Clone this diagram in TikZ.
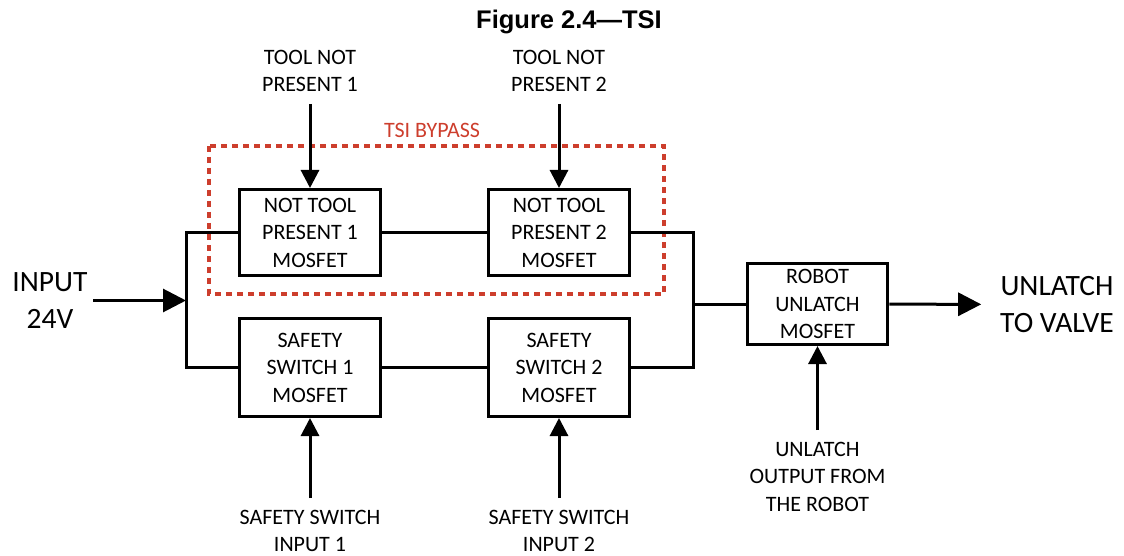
\documentclass[tikz,border=0pt]{standalone}
\usepackage{fontspec}
\setmainfont{Carlito}
\newfontfamily\titlefont{Liberation Sans}
\usetikzlibrary{positioning,arrows.meta}
\definecolor{bypassred}{RGB}{205,62,45}

\begin{document}
\begin{tikzpicture}[
        x=1pt, y=-1pt,
        node distance={105pt},
        fet/.style = {draw, line width=3pt, minimum width=141pt, align=center, inner sep=0pt, font=\fontsize{22}{27.5}\selectfont},
        lbl/.style = {align=center, inner sep=0pt, outer sep=12pt, font=\fontsize{22}{27.5}\selectfont},
        big/.style = {align=center, inner sep=0pt, font=\fontsize{29.5}{37}\selectfont},
        wire/.style = {line width=3pt},
        arr/.style = {line width=3pt, -{Triangle[length=18pt, width=18pt]}},
        bigarr/.style = {line width=3pt, -{Triangle[length=23pt, width=23pt]}},
        bypass/.style = {draw=bypassred, line width=3.3pt, dash pattern=on 6pt off 5pt}
    ]
        \useasboundingbox (0,0) rectangle (1124,556);

        % Titre
        \node[font=\titlefont\bfseries\fontsize{25.5}{30}\selectfont] (title) at (569,21.5) {Figure 2.4—TSI};

        % Les MOSFET (positionnement relatif)
        \node[fet, minimum height=86pt] (NTP1) at (310,232.5) {NOT TOOL\\PRESENT 1\\MOSFET};
        \node[fet, minimum height=86pt] (NTP2) [right=of NTP1] {NOT TOOL\\PRESENT 2\\MOSFET};
        \node[fet, minimum height=98pt] (SS1) [below=40pt of NTP1] {SAFETY\\SWITCH 1\\MOSFET};
        \node[fet, minimum height=98pt] (SS2) [right=of SS1] {SAFETY\\SWITCH 2\\MOSFET};
        \node[fet, minimum height=81pt, minimum width=140.5pt] (RUM) at (817.5,304) {ROBOT\\UNLATCH\\MOSFET};

        % Entrées et sorties
        \node[lbl] (TNP1) [above=84pt of NTP1] {TOOL NOT\\PRESENT 1};
        \node[lbl] (TNP2) [above=84pt of NTP2] {TOOL NOT\\PRESENT 2};
        \node[lbl] (SSI1) [below=80pt of SS1] {SAFETY SWITCH\\INPUT 1};
        \node[lbl] (SSI2) [below=80pt of SS2] {SAFETY SWITCH\\INPUT 2};
        \node[lbl] (UOR) [below=84pt of RUM] {UNLATCH\\OUTPUT FROM\\THE ROBOT};
        \node[big, outer sep=5.5pt] (IN) at (50,300.5) {INPUT\\24V};
        \node[big, outer sep=19pt] (OUT) at (1057,304.5) {UNLATCH\\TO VALVE};

        % Zone de bypass
        \draw[bypass] (209,146) rectangle (664,294);
        \node[font=\fontsize{22}{27.5}\selectfont, text=bypassred, inner sep=0pt] (BYP) at (432,130) {TSI BYPASS};

        % Bus et liaisons
        \coordinate (LB) at (186,300.5);
        \coordinate (RB) at (693,304);
        \draw[wire] (NTP1.west) -| (LB) |- (SS1.west);
        \draw[wire] (NTP1) -- (NTP2);
        \draw[wire] (SS1) -- (SS2);
        \draw[wire] (NTP2.east) -| (RB) |- (SS2.east);
        \draw[wire] (RB) -- (RUM);

        % Flèches
        \draw[bigarr] (IN) -- (LB);
        \draw[bigarr] (RUM) -- (OUT);
        \draw[arr] (TNP1) -- (NTP1);
        \draw[arr] (TNP2) -- (NTP2);
        \draw[arr] (SSI1) -- (SS1);
        \draw[arr] (SSI2) -- (SS2);
        \draw[arr] (UOR) -- (RUM);

    \end{tikzpicture}
\end{document}
